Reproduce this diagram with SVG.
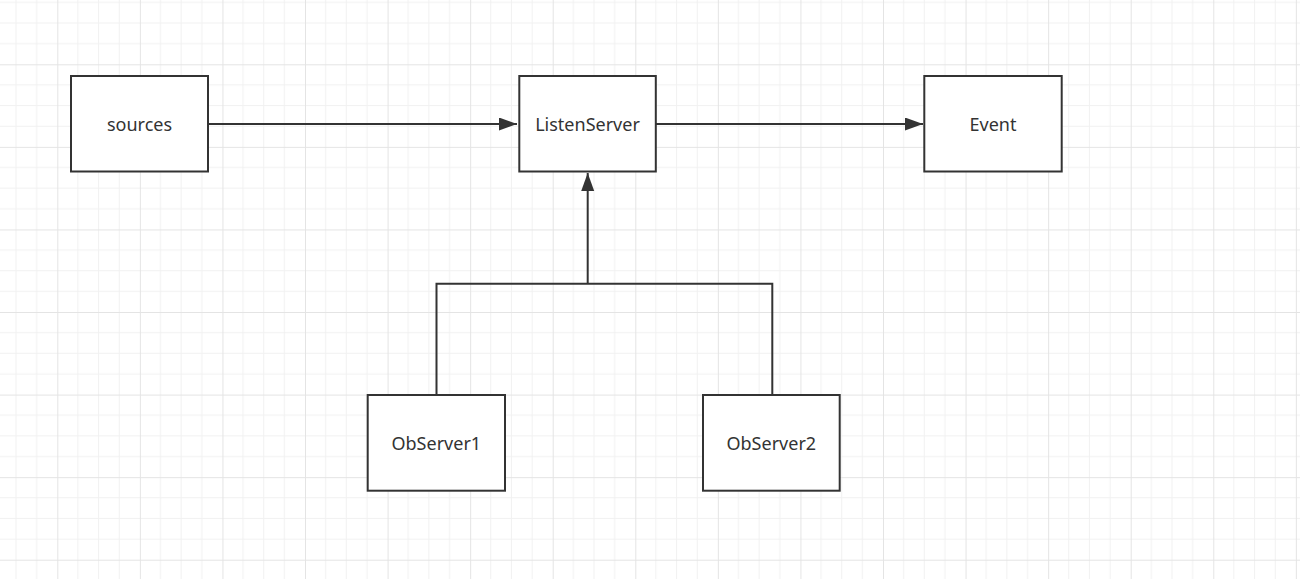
<svg xmlns="http://www.w3.org/2000/svg" width="1300" height="579" viewBox="0 0 1300 579">
  <style>
    .box { fill: #ffffff; stroke: #333333; stroke-width: 2; }
    .lbl { font-family: "Noto Sans", "Liberation Sans", sans-serif; font-size: 18px; fill: #333333; text-anchor: middle; }
    .edge { fill: none; stroke: #333333; stroke-width: 2; }
  </style>
  <defs>
    <pattern id="grid" patternUnits="userSpaceOnUse" x="57.3" y="64.3" width="82.57" height="82.57">
      <path d="M20.64 0V82.57M41.29 0V82.57M61.93 0V82.57M0 20.64H82.57M0 41.29H82.57M0 61.93H82.57" stroke="#f1f1f1" stroke-width="1" fill="none"/>
      <path d="M0.5 0V82.57M0 0.5H82.57" stroke="#e4e4e4" stroke-width="1" fill="none"/>
    </pattern>
    <marker id="arrow" markerUnits="userSpaceOnUse" markerWidth="20" markerHeight="14" refX="18" refY="6.5" orient="auto">
      <path d="M0 0L18 6.5L0 13Z" fill="#333333"/>
    </marker>
  </defs>
  <rect x="0" y="0" width="1300" height="579" fill="#ffffff"/>
  <rect x="0" y="0" width="1300" height="579" fill="url(#grid)"/>

  <g id="connectors">
    <path class="edge" d="M208 124H517" marker-end="url(#arrow)"/>
    <path class="edge" d="M656 124H923" marker-end="url(#arrow)"/>
    <path class="edge" d="M436.5 395V283.7H772.3V395"/>
    <path class="edge" d="M587.7 283.7V173" marker-end="url(#arrow)"/>
  </g>

  <g id="sources">
    <rect class="box" x="71" y="76" width="137" height="95.5"/>
    <text class="lbl" x="139.5" y="130.5">sources</text>
  </g>
  <g id="ListenServer">
    <rect class="box" x="519.3" y="76" width="136.5" height="95.5"/>
    <text class="lbl" x="587.5" y="130.5">ListenServer</text>
  </g>
  <g id="Event">
    <rect class="box" x="924.3" y="76" width="137.4" height="95.5"/>
    <text class="lbl" x="993" y="130.5">Event</text>
  </g>
  <g id="ObServer1">
    <rect class="box" x="367.7" y="395" width="137.3" height="95.7"/>
    <text class="lbl" x="436.3" y="450">ObServer1</text>
  </g>
  <g id="ObServer2">
    <rect class="box" x="703" y="395" width="136.7" height="95.7"/>
    <text class="lbl" x="771.3" y="450">ObServer2</text>
  </g>
</svg>
